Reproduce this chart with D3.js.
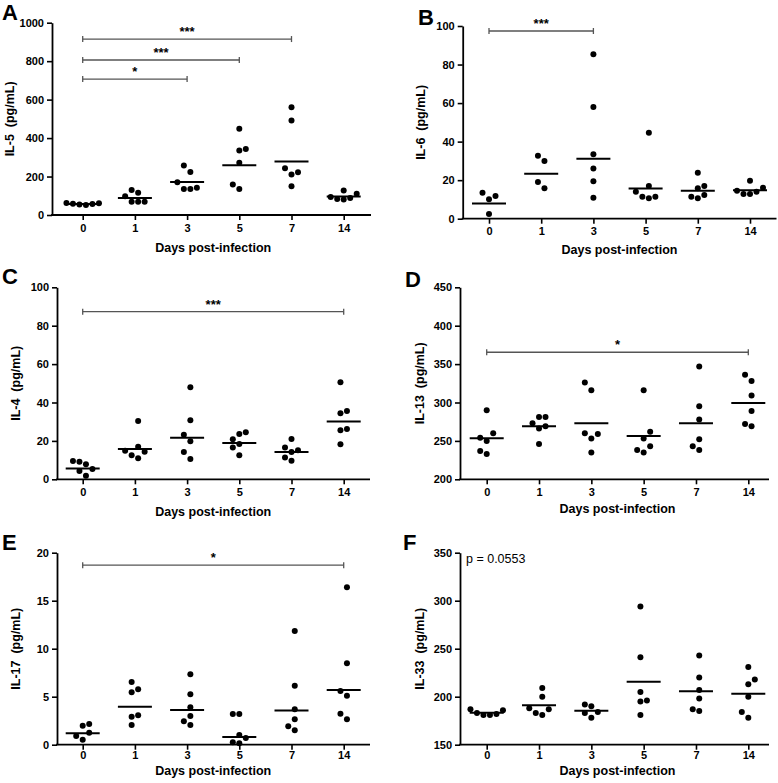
<!DOCTYPE html>
<html><head><meta charset="utf-8">
<script src="https://cdn.jsdelivr.net/npm/d3@7"></script>
<style>
body{margin:0;background:#fff;}
text{font-family:"Liberation Sans",Arial,Helvetica,sans-serif;}
</style></head><body>
<svg id="c" width="778" height="783"></svg>
<script>
// ---------- data ----------
const days = ["0","1","3","5","7","14"];

const il5Ticks  = [0,200,400,600,800,1000];
const il6Ticks  = [0,20,40,60,80,100];
const il4Ticks  = [0,20,40,60,80,100];
const il13Ticks = [200,250,300,350,400,450];
const il17Ticks = [0,5,10,15,20];
const il33Ticks = [150,200,250,300,350];

const il5Values = [
  [61,57,52,55,59,62],
  [116,130,97,69,69,69],
  [258,224,170,142,135,135],
  [449,336,343,272,135,159],
  [560,492,243,222,211,149],
  [111,88,80,83,94,127]
];
const il6Values = [
  [11.8,10.1,13.5,2.4],
  [32.7,29.9,15.8,19.0],
  [85.3,58.0,33.4,26.0,19.4,10.9],
  [44.6,17.0,11.4,10.6,11.4,14.0],
  [23.9,17.0,15.8,12.3,10.6,11.4],
  [19.7,16.1,14.0,12.8,12.8,14.5]
];
const il4Values = [
  [9.2,7.8,9.5,5.4,4.3,1.9],
  [30.4,17.0,14.4,14.9,10.9,12.5],
  [47.9,30.7,23.2,19.8,14.2,10.6],
  [23.6,24.5,20.8,18.4,16.5,12.5],
  [21.0,16.5,15.1,14.2,11.3,9.7],
  [50.5,34.4,35.6,26.2,25.5,18.2]
];
const il13Values = [
  [290,254,260,250,233,237],
  [281,281,269,266,273,246],
  [316,326,259,260,253,235],
  [316,262,253,243,235,238],
  [347,295,278,252,238,243],
  [336,328,309,289,269,272]
];
const il17Values = [
  [2.16,1.98,1.25,0.91,0.52],
  [6.53,5.46,5.77,3.06,2.92,2.05],
  [7.33,5.25,3.90,2.99,2.44,2.05],
  [3.20,3.20,0.70,1.01,0.15,0.25],
  [11.84,6.15,3.69,2.65,1.92,1.50],
  [16.40,8.48,5.59,5.10,3.23,2.65]
];
const il33Values = [
  [186,182,181,181,183,187],
  [209,200,187,181,183,188],
  [192,190,184,183,178],
  [294,241,205,196,195,181],
  [243,220,207,198,185,187],
  [231,213,218,200,184,178]
];

const il5Sig  = [{from:"0",to:"7",value:915,label:"***"},{from:"0",to:"5",value:806,label:"***"},{from:"0",to:"3",value:707,label:"*"}];
const il6Sig  = [{from:"0",to:"3",value:97.4,label:"***"}];
const il4Sig  = [{from:"0",to:"14",value:87.3,label:"***"}];
const il13Sig = [{from:"0",to:"14",value:365.4,label:"*"}];
const il17Sig = [{from:"0",to:"14",value:18.7,label:"*"}];
const il33Sig = [];
const il33Note = "p = 0.0553";

const xTitle = "Days post-infection";

// ---------- layout ----------
const panels = [
  {letter:"A", title:"IL-5  (pg/mL)",  values:il5Values,  ticks:il5Ticks,  sig:il5Sig,
   x0:52,  xEnd:371, c0:82.7, c1:343.7, yTop:22.7, yBot:215, lx:2,   ly:20,  tx:10, tpad:4, toff:37},
  {letter:"B", title:"IL-6  (pg/mL)",  values:il6Values,  ticks:il6Ticks,  sig:il6Sig,
   x0:462.7, xEnd:776.5, c0:489, c1:750, yTop:26, yBot:218.7, lx:418, ly:25, tx:421, tpad:4, toff:35},
  {letter:"C", title:"IL-4  (pg/mL)",  values:il4Values,  ticks:il4Ticks,  sig:il4Sig,
   x0:57,  xEnd:370, c0:82.7, c1:343.7, yTop:287.3, yBot:479.3, lx:2, ly:284, tx:16, tpad:4, toff:37},
  {letter:"D", title:"IL-13  (pg/mL)", values:il13Values, ticks:il13Ticks, sig:il13Sig,
   x0:460, xEnd:769, c0:486.7, c1:748.3, yTop:287.3, yBot:479.3, lx:405, ly:287, tx:420, tpad:4, toff:34},
  {letter:"E", title:"IL-17  (pg/mL)", values:il17Values, ticks:il17Ticks, sig:il17Sig,
   x0:57,  xEnd:370, c0:82.7, c1:343.7, yTop:552.7, yBot:744.7, lx:2, ly:550, tx:16, tpad:2, toff:30},
  {letter:"F", title:"IL-33  (pg/mL)", values:il33Values, ticks:il33Ticks, sig:il33Sig, note:il33Note,
   x0:460, xEnd:769, c0:486.7, c1:748.3, yTop:552.7, yBot:744.7, lx:403, ly:550, tx:420, tpad:2, toff:30}
];

const svg = d3.select("#c");
const R = 3;

function geoMean(arr){ return Math.exp(d3.mean(arr, v => Math.log(v))); }

function swarm(ys, D, Dy){
  const order = ys.map((y,i)=>i).sort((a,b)=> ys[b]-ys[a]);
  const placed = [];
  const off = new Array(ys.length).fill(0);
  order.forEach((i,n)=>{
    const y = ys[i];
    const ok = dx => placed.every(p => Math.abs(p.dx-dx) >= D || Math.abs(p.y-y) >= Dy);
    let chosen = 0;
    for(let k=0;k<400;k++){
      const s = k*0.25;
      const a = n%2 ? -s : s, b = -a;
      if(ok(a)){chosen=a;break;}
      if(ok(b)){chosen=b;break;}
    }
    placed.push({dx:chosen,y});
    off[i]=chosen;
  });
  const c = (d3.min(off)+d3.max(off))/2;
  return off.map(o=>o-c);
}

panels.forEach(p=>{
  const g = svg.append("g");
  const y = d3.scaleLinear().domain([p.ticks[0], p.ticks[p.ticks.length-1]]).range([p.yBot, p.yTop]);
  const x = d3.scalePoint().domain(days).range([p.c0, p.c1]);

  // y axis
  const ya = g.append("g").attr("transform",`translate(${p.x0},0)`)
    .call(d3.axisLeft(y).tickValues(p.ticks).tickSize(5).tickSizeOuter(0).tickPadding(3).tickFormat(d3.format("d")));
  ya.select(".domain").attr("stroke","#000").attr("stroke-width",1.8);
  ya.selectAll(".tick line").attr("stroke","#000").attr("stroke-width",1.6);
  ya.selectAll(".tick text").attr("font-size",11).attr("font-weight","bold").attr("fill","#000")
    .attr("font-family",'"Liberation Sans",Arial,sans-serif');

  // x axis
  const xa = g.append("g").attr("transform",`translate(0,${p.yBot})`)
    .call(d3.axisBottom(x).tickSize(5).tickSizeOuter(0).tickPadding(p.tpad));
  xa.select(".domain").remove();
  xa.selectAll(".tick line").attr("stroke","#000").attr("stroke-width",1.6);
  xa.selectAll(".tick text").attr("font-size",11).attr("font-weight","bold").attr("fill","#000")
    .attr("font-family",'"Liberation Sans",Arial,sans-serif');
  g.append("line").attr("x1",p.x0-0.9).attr("x2",p.xEnd).attr("y1",p.yBot).attr("y2",p.yBot)
    .attr("stroke","#000").attr("stroke-width",1.8);

  // points and geometric mean lines
  p.values.forEach((vals,i)=>{
    const cx = x(days[i]);
    const ys = vals.map(v=>y(v));
    const offs = swarm(ys, 6.5, 8);
    g.selectAll(null).data(vals).enter().append("circle")
      .attr("cx",(d,j)=>cx+offs[j]).attr("cy",d=>y(d)).attr("r",R).attr("fill","#000");
    const gm = geoMean(vals);
    g.append("line").attr("x1",cx-17).attr("x2",cx+17).attr("y1",y(gm)).attr("y2",y(gm))
      .attr("stroke","#000").attr("stroke-width",2);
  });

  // significance bars
  p.sig.forEach(s=>{
    const x1 = x(s.from), x2 = x(s.to), yy = y(s.value);
    const sg = g.append("g").attr("stroke","#555").attr("stroke-width",1.3);
    sg.append("line").attr("x1",x1).attr("x2",x2).attr("y1",yy).attr("y2",yy);
    sg.append("line").attr("x1",x1).attr("x2",x1).attr("y1",yy-3).attr("y2",yy+3);
    sg.append("line").attr("x1",x2).attr("x2",x2).attr("y1",yy-3).attr("y2",yy+3);
    g.append("text").attr("x",(x1+x2)/2).attr("y",yy-3).attr("text-anchor","middle")
      .attr("font-size",13).attr("font-weight","bold").text(s.label);
  });

  if(p.note){
    g.append("text").attr("x",p.x0+6).attr("y",y(p.ticks[p.ticks.length-1])+10)
      .attr("font-size",12.5).text(p.note);
  }

  // titles
  g.append("text").attr("x",(p.c0+p.c1)/2).attr("y",p.yBot+p.toff).attr("text-anchor","middle")
    .attr("font-size",12.5).attr("font-weight","bold").text(xTitle);
  g.append("text").attr("transform",`translate(${p.tx},${(p.yTop+p.yBot)/2}) rotate(-90)`)
    .attr("text-anchor","middle").attr("dy","0.35em").attr("font-size",12.5).attr("font-weight","bold")
    .style("white-space","pre").text(p.title);
  g.append("text").attr("x",p.lx).attr("y",p.ly).attr("font-size",22).attr("font-weight","bold").text(p.letter);
});
</script>
</body></html>
